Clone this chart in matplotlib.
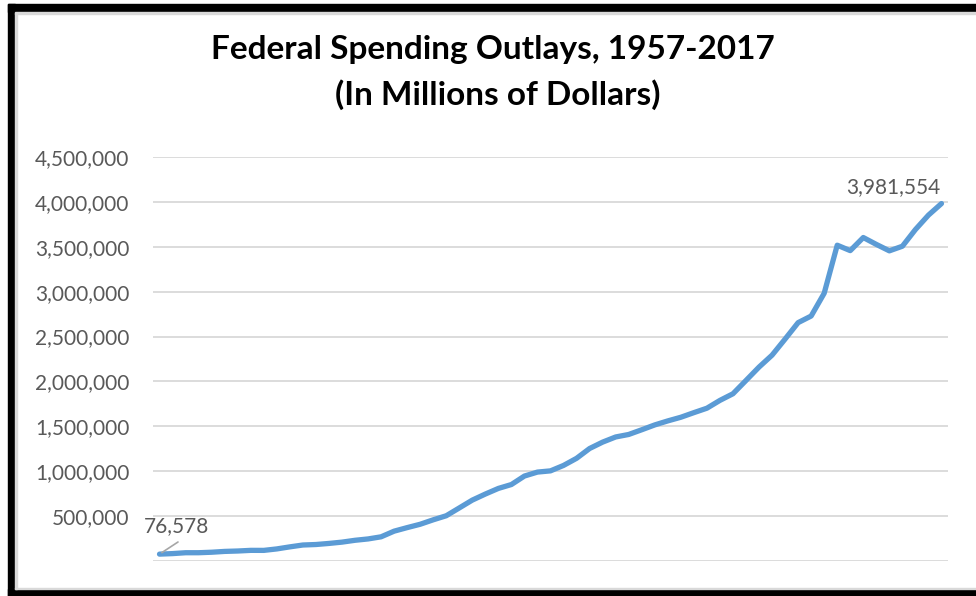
import matplotlib.pyplot as plt
from matplotlib.patches import Rectangle
import numpy as np

# Federal outlays in millions of dollars
years = list(range(1957, 2018))
outlays = [
    76578, 82405, 92098, 92191, 97723, 106821, 111316, 118528, 118228, 134532,
    157464, 178134, 183640, 195649, 210172, 230681, 245707, 269359, 332332, 371792,
    409218, 458746, 504028, 590941, 678241, 745743, 808364, 851805, 946344, 990382,
    1004017, 1064416, 1143743, 1252993, 1324226, 1381529, 1409386, 1461752, 1515742, 1560484,
    1601116, 1652458, 1701842, 1788950, 1862846, 2010894, 2159899, 2292841, 2471957, 2655050,
    2728686, 2982544, 3517677, 3457079, 3603065, 3526563, 3454647, 3506114, 3691850, 3852612,
    3981554,
]
y_ticks = [0, 500000, 1000000, 1500000, 2000000, 2500000, 3000000, 3500000, 4000000, 4500000]
y_labels = [''] + ['{:,}'.format(v) for v in y_ticks[1:]]

W, H = 976, 596
fig = plt.figure(figsize=(W / 100, H / 100), dpi=100)
fig.patch.set_facecolor('white')

ax = fig.add_axes([153 / W, 1 - 561 / H, (948 - 153) / W, (561 - 157) / H])
x = np.arange(len(years))
ax.plot(x, outlays, color='#5B9BD5', linewidth=3.8, solid_joinstyle='round',
        solid_capstyle='round', zorder=3)

ax.set_xlim(-0.5, len(years) - 0.5)
ax.set_ylim(0, 4500000)
ax.set_yticks(y_ticks)
ax.set_yticklabels(y_labels, fontsize=15, color='#595959', family='Lato')
ax.set_xticks([])
ax.tick_params(axis='y', length=0, pad=17)
ax.grid(axis='y', color='#D9D9D9', linewidth=1.3)
ax.set_axisbelow(True)
for s in ax.spines.values():
    s.set_visible(False)

# data labels at the two ends
fig.text(144 / W, 1 - 526 / H, '{:,}'.format(outlays[0]), fontsize=15, color='#595959',
         family='Lato', va='center', ha='left')
ax.annotate('', xy=(x[0], outlays[0]), xytext=(178 / W, 1 - 542 / H),
            textcoords='figure fraction',
            arrowprops=dict(arrowstyle='-', color='#A6A6A6', linewidth=1.2, shrinkA=0, shrinkB=2))
fig.text(940 / W, 1 - 187 / H, '{:,}'.format(outlays[-1]), fontsize=15, color='#595959',
         family='Lato', va='center', ha='right')

# title
fig.text(0.505, 1 - 50 / H, 'Federal Spending Outlays, 1957-2017', fontsize=24,
         fontweight='bold', family='Lato', ha='center', va='center', color='black')
fig.text(0.51, 1 - 95 / H, '(In Millions of Dollars)', fontsize=24,
         fontweight='bold', family='Lato', ha='center', va='center', color='black')

# black frame (top, left, bottom) with thin inner grey edge
tf = fig.transFigure
fig.patches.append(Rectangle((8 / W, 1 - 12 / H), 1, 8 / H, transform=tf, color='black'))
fig.patches.append(Rectangle((8 / W, 0), 7 / W, 1 - 4 / H, transform=tf, color='black'))
fig.patches.append(Rectangle((8 / W, 0), 1, 7 / H, transform=tf, color='black'))
fig.patches.append(Rectangle((15 / W, 1 - 13.5 / H), 1, 1.5 / H, transform=tf, color='#D9D9D9'))
fig.patches.append(Rectangle((15 / W, 7 / H), 1.5 / W, 1 - 20 / H, transform=tf, color='#D9D9D9'))
fig.patches.append(Rectangle((15 / W, 7 / H), 1, 1.5 / H, transform=tf, color='#D9D9D9'))

fig.savefig('out.png', dpi=100)
